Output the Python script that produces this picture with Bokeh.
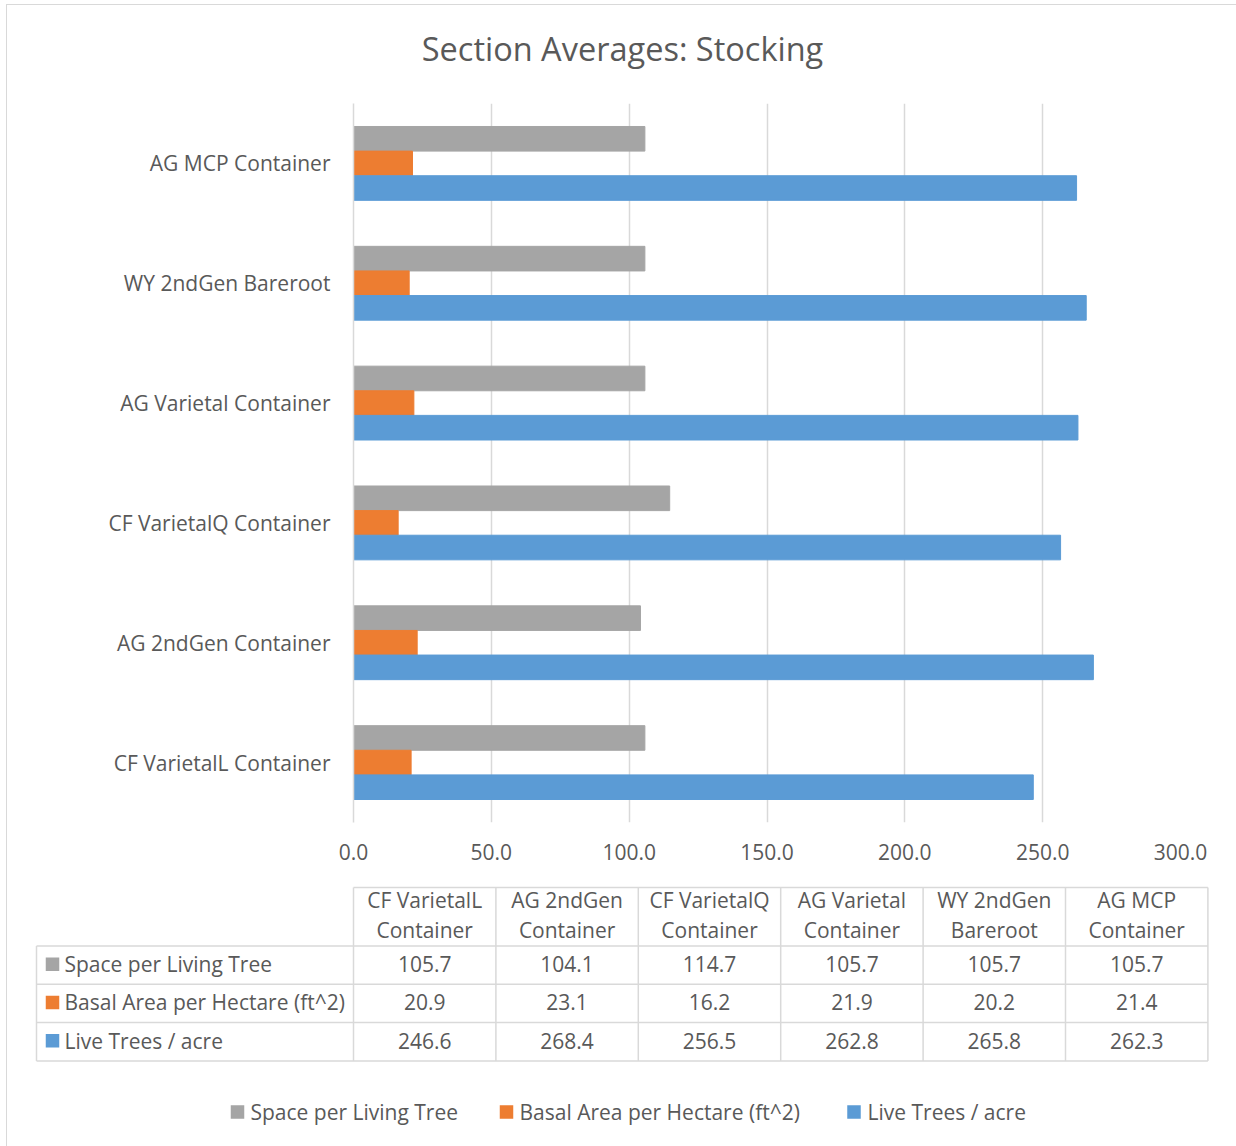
from bokeh.plotting import figure
from bokeh.layouts import column, row
from bokeh.models import Range1d, FactorRange, FixedTicker, Spacer
from bokeh.transform import dodge
from bokeh.core.properties import value
from bokeh.embed import file_html
from bokeh.resources import INLINE

# ---------------- data ----------------
categories = ["CF VarietalL Container", "AG 2ndGen Container", "CF VarietalQ Container",
              "AG Varietal Container", "WY 2ndGen Bareroot", "AG MCP Container"]
space_per_tree = [105.7, 104.1, 114.7, 105.7, 105.7, 105.7]
basal_area = [20.9, 23.1, 16.2, 21.9, 20.2, 21.4]
live_trees = [246.6, 268.4, 256.5, 262.8, 265.8, 262.3]
series_names = ["Space per Living Tree", "Basal Area per Hectare (ft^2)", "Live Trees / acre"]
series_values = [space_per_tree, basal_area, live_trees]
series_colors = ["#A5A5A5", "#ED7D31", "#5B9BD5"]
x_ticks = [0, 50, 100, 150, 200, 250, 300]
x_tick_labels = ["0.0", "50.0", "100.0", "150.0", "200.0", "250.0", "300.0"]
title_text = "Section Averages: Stocking"

FONT = value("Open Sans")
TXT = "#595959"
GRID = "#d9d9d9"
FS = "21px"

W = 1229  # content width (page x 7..1236)

# ---------------- title figure ----------------
pt = figure(width=W, height=98, x_range=Range1d(7, 1236), y_range=Range1d(103, 5),
            output_backend="svg", toolbar_location=None, min_border=0)
pt.frame_align = False
pt.axis.visible = False
pt.grid.visible = False
pt.outline_line_color = None
pt.text(x=[622], y=[47.5], text=[title_text], text_font=FONT, text_font_size="32.5px",
        text_color=TXT, text_align="center", text_baseline="middle")

# ---------------- bar chart ----------------
pa = figure(width=W, height=777, x_range=Range1d(0, 300),
            y_range=FactorRange(factors=categories, range_padding=0),
            output_backend="svg", toolbar_location=None,
            min_border_left=346, min_border_right=56, min_border_top=0, min_border_bottom=58)
pa.frame_align = False
pa.outline_line_color = None
src = dict(cat=categories, space=space_per_tree, basal=basal_area, live=live_trees)
bh = 0.2054
pa.hbar(y=dodge("cat", bh, range=pa.y_range), left=0, right="space", height=bh,
        color=series_colors[0], source=src)
pa.hbar(y=dodge("cat", 0, range=pa.y_range), left=0, right="basal", height=bh,
        color=series_colors[1], source=src)
pa.hbar(y=dodge("cat", -bh, range=pa.y_range), left=0, right="live", height=bh,
        color=series_colors[2], source=src)

pa.xaxis.ticker = FixedTicker(ticks=x_ticks)
pa.xaxis.major_label_overrides = {t: l for t, l in zip(x_ticks, x_tick_labels)}
pa.xaxis.axis_line_color = None
pa.xaxis.major_tick_line_color = None
pa.xaxis.minor_tick_line_color = None
pa.xaxis.major_label_standoff = 15
pa.yaxis.axis_line_color = GRID
pa.yaxis.axis_line_width = 1.5
pa.yaxis.major_tick_line_color = None
pa.yaxis.minor_tick_line_color = None
pa.yaxis.major_tick_out = 0
pa.yaxis.major_label_standoff = 23
for ax in (pa.xaxis, pa.yaxis):
    ax.major_label_text_font = "Open Sans"
    ax.major_label_text_font_size = FS
    ax.major_label_text_color = TXT
pa.xgrid.ticker = FixedTicker(ticks=x_ticks)
pa.xgrid.grid_line_color = GRID
pa.xgrid.grid_line_width = 1.5
pa.ygrid.grid_line_color = None

# ---------------- data table + legend ----------------
pb = figure(width=W, height=266, x_range=Range1d(7, 1236), y_range=Range1d(1146, 880),
            output_backend="svg", toolbar_location=None, min_border=0)
pb.frame_align = False
pb.axis.visible = False
pb.grid.visible = False
pb.outline_line_color = None

col_x0, col_w = 353.0, 142.4
lab_x0 = 36.0
head_top = 887.0
row_edges = [945.5, 983.8, 1022.1, 1060.4]
ncol = len(categories)
x_end = col_x0 + ncol * col_w

xs0, ys0, xs1, ys1 = [], [], [], []
xs0.append(col_x0); ys0.append(head_top); xs1.append(x_end); ys1.append(head_top)
for ye in row_edges:
    xs0.append(lab_x0); ys0.append(ye); xs1.append(x_end); ys1.append(ye)
for k in range(ncol + 1):
    xx = col_x0 + k * col_w
    xs0.append(xx); ys0.append(head_top); xs1.append(xx); ys1.append(row_edges[-1])
xs0.append(lab_x0); ys0.append(row_edges[0]); xs1.append(lab_x0); ys1.append(row_edges[-1])
pb.segment(x0=xs0, y0=ys0, x1=xs1, y1=ys1, line_color=GRID, line_width=1.5)

col_centers = [col_x0 + (k + 0.5) * col_w for k in range(ncol)]
line1 = [c.rsplit(" ", 1)[0] for c in categories]
line2 = [c.rsplit(" ", 1)[1] for c in categories]
pb.text(x=col_centers, y=[899.5] * ncol, text=line1, text_font=FONT, text_font_size=FS,
        text_color=TXT, text_align="center", text_baseline="middle")
pb.text(x=col_centers, y=[929.5] * ncol, text=line2, text_font=FONT, text_font_size=FS,
        text_color=TXT, text_align="center", text_baseline="middle")

row_centers = [(row_edges[i] + row_edges[i + 1]) / 2 - 1 for i in range(3)]
for i, (name, vals, colr) in enumerate(zip(series_names, series_values, series_colors)):
    yc = row_centers[i]
    pb.rect(x=[52], y=[yc], width=13.5, height=13.5, fill_color=colr, line_color=None)
    pb.text(x=[64], y=[yc], text=[name], text_font=FONT, text_font_size=FS,
            text_color=TXT, text_align="left", text_baseline="middle")
    pb.text(x=col_centers, y=[yc] * ncol, text=["%.1f" % v for v in vals], text_font=FONT,
            text_font_size=FS, text_color=TXT, text_align="center", text_baseline="middle")

# legend
leg_sq_x = [237, 506, 853.5]
leg_tx_x = [250, 519, 867]
leg_y = 1111.5
pb.rect(x=leg_sq_x, y=[leg_y] * 3, width=13.5, height=13.5, fill_color=series_colors,
        line_color=None)
pb.text(x=leg_tx_x, y=[leg_y] * 3, text=series_names, text_font=FONT, text_font_size=FS,
        text_color=TXT, text_align="left", text_baseline="middle")

# ---------------- page with border ----------------
content = column(pt, pa, pb)
top_line = row(Spacer(width=6, height=1),
               Spacer(width=1230, height=1, styles={"background-color": "#d9d9d9"}))
body = row(Spacer(width=6, height=1141),
           Spacer(width=1, height=1141, styles={"background-color": "#d9d9d9"}),
           content)
root = column(Spacer(width=1236, height=4), top_line, body)

open("out.html", "w").write(file_html(root, INLINE))
